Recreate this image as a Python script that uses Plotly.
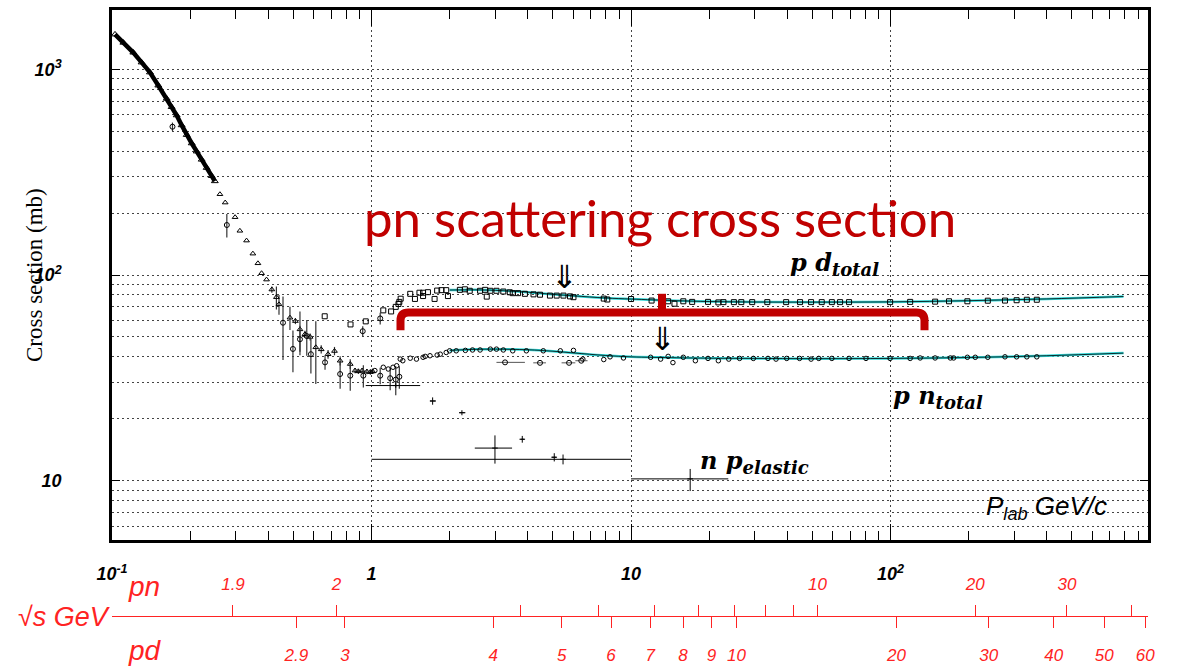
import math
import plotly.graph_objects as go

# ---------------- data (P_lab in GeV/c, cross sections in mb) ----------------
# np total, low-energy dense band
band_x = [0.1027, 0.1106, 0.1208, 0.130, 0.140, 0.1508, 0.1625, 0.1697, 0.1775,
          0.1855, 0.194, 0.2028, 0.212, 0.2216, 0.2316, 0.2422, 0.249]
band_y = [1479, 1348, 1207, 1081, 967, 835, 720, 656, 598,
          535, 480, 437, 399, 364, 332, 303, 286]

# np total, triangles below 1 GeV/c
tri_x = [0.2606, 0.273, 0.298, 0.311, 0.33, 0.349, 0.365, 0.377, 0.394, 0.413, 0.43,
         0.44, 0.485, 0.509, 0.53, 0.554, 0.58, 0.61, 0.64, 0.68, 0.72, 0.757, 0.828,
         0.864, 0.89, 0.92, 0.96, 0.99, 1.01]
tri_y = [247, 225, 191, 164, 147, 127, 114, 102, 95, 85, 78,
         72, 62, 59.7, 54.4, 51.5, 50, 44.5, 43.5, 41.2, 42.7, 38.3, 36.9,
         34.3, 34.0, 34.3, 33.9, 33.7, 34.0]
tri_err = [0, 0, 0, 0, 0, 0, 0, 0, 0, 3, 10,
           8, 8, 2, 12, 2, 2, 15, 2, 2, 2, 2, 2,
           1, 1, 1, 1, 1, 1]

# np total, circles with error bars
circ_x = [0.171, 0.277, 0.456, 0.498, 0.53, 0.563, 0.584, 0.662, 0.757, 0.828,
          0.925, 0.93, 1.08, 1.08, 1.18, 1.24, 1.28]
circ_y = [526, 175, 58.6, 43.7, 48.7, 50.5, 41.2, 37.6, 33.0, 32.4,
          53.3, 32.4, 32.4, 61.5, 31.5, 31.0, 32.0]
circ_err = [25, 23, 20, 10, 8, 10, 8, 3, 5, 5,
            3, 4, 3, 4, 4, 5, 4]

# pd total
pd_x = [0.66, 0.83, 0.95, 1.11, 1.19, 1.24, 1.27, 1.28, 1.295, 1.41, 1.47, 1.53, 1.58,
        1.58, 1.65, 1.75, 1.79, 1.86, 1.94, 1.97, 2.19, 2.29, 2.39, 2.62, 2.74, 2.78,
        2.87, 3.03, 3.22, 3.41, 3.5, 3.67, 3.9, 4.21, 4.46, 4.87, 5.17, 5.49, 5.82,
        6.0, 7.85, 8.1, 10.0, 12.0, 13.9, 14.7, 15.9, 17.2, 19.8, 21.7, 22.7, 24.9,
        26.6, 29.3, 33.5, 39.6, 44.8, 49.4, 54.3, 59.4, 63.9, 69.2, 99.6, 119, 148.5,
        168, 197.7, 237, 276, 306, 335, 366]
pd_y = [63, 57.5, 59.5, 67.3, 66.5, 70, 72.3, 74, 76.7, 81, 76.5, 82, 82,
        79, 82.5, 76.5, 84, 84.4, 84.4, 79, 84.7, 85.2, 83.8, 83.8, 84.7, 78.5,
        83.8, 83.8, 83.1, 82.4, 81.6, 81.6, 81.0, 80.5, 80.2, 79.4, 79.4, 79.4, 78.7,
        78.0, 76.8, 76.0, 76.4, 75.1, 74.5, 72.5, 74.5, 74.0, 74.0, 73.6, 73.8, 73.8,
        73.8, 73.8, 73.8, 73.8, 73.8, 73.8, 73.8, 73.8, 73.8, 73.8, 73.8, 74.0, 74.2,
        74.5, 74.5, 75.0, 75.1, 75.4, 75.8, 75.8]

# pn total
pn_x = [1.03, 1.11, 1.16, 1.21, 1.25, 1.29, 1.32, 1.41, 1.49, 1.58, 1.61, 1.68, 1.79,
        1.84, 1.94, 2.0, 2.12, 2.3, 2.45, 2.62, 2.87, 3.03, 3.22, 3.5, 3.95, 4.59,
        5.34, 6.0, 6.52, 7.85, 8.3, 9.35, 11.9, 13.0, 13.9, 14.5, 15.9, 17.7, 19.8,
        21.7, 23.8, 26.2, 29.6, 33.7, 36.2, 39.8, 44.6, 49.4, 52.9, 59.4, 69.2, 80.4,
        99.6, 119, 130, 148.5, 170, 175, 197.7, 212, 237, 276, 306, 335, 366]
pn_y = [34.3, 35.6, 34.9, 35.6, 36.2, 39.0, 38.3, 39.4, 39.0, 39.8, 40.2, 40.5, 40.8,
        41.2, 42.0, 42.8, 42.8, 43.0, 43.2, 43.2, 43.6, 43.6, 43.2, 42.8, 42.8, 42.8,
        42.8, 43.0, 39.0, 38.8, 40.0, 39.5, 39.8, 39.0, 40.2, 37.5, 39.8, 38.3, 39.3,
        38.3, 39.0, 39.3, 39.3, 39.3, 39.0, 39.3, 39.3, 39.0, 39.3, 39.3, 39.3, 39.3,
        39.3, 39.3, 39.5, 39.5, 39.5, 39.5, 39.8, 39.8, 39.8, 40.0, 40.0, 40.0, 40.0]

# pn total, points with horizontal bins
pnbin_x = [3.27, 4.46, 5.77, 6.43]
pnbin_y = [37.6, 37.4, 37.4, 38.3]
pnbin_lo = [3.03, 4.2, 5.4, 6.1]
pnbin_hi = [3.9, 4.7, 6.1, 6.8]

# np elastic
el_x = [1.24, 1.72, 2.23, 2.99, 3.81, 5.06, 5.47, 16.9]
el_y = [29.0, 24.4, 21.4, 14.4, 15.9, 13.0, 12.7, 10.2]
el_xlo = [0.95, 1.68, 2.18, 2.5, 3.75, 4.95, 1.0, 10.0]
el_xhi = [1.54, 1.77, 2.3, 3.48, 3.88, 5.15, 10.0, 23.7]
el_ylo = [28.3, 23.4, 20.8, 12.1, 15.3, 12.4, 12.0, 8.9]
el_yhi = [29.8, 25.4, 22.0, 16.6, 16.5, 13.6, 13.4, 11.4]

# fitted curves
fit_x = [2.0, 2.5, 3.0, 4.0, 5.0, 6.0, 8.0, 10, 15, 20, 30, 50, 100, 200, 400, 790]
pd_fit_y = [84.5, 84.7, 84.2, 82.5, 80.5, 79.2, 77.3, 76.4, 75.0, 74.3, 73.9, 73.8,
            74.0, 75.0, 76.5, 78.6]
pn_fit_y = [43.0, 43.5, 43.6, 43.3, 42.6, 41.8, 40.6, 40.0, 39.6, 39.4, 39.3, 39.2,
            39.3, 39.7, 40.5, 41.7]

# sqrt(s) scale ticks (GeV)
pn_sqrt_s = [1.9, 2, 3, 4, 5, 6, 7, 8, 9, 10, 20, 30, 40]
pn_labelled = [1.9, 2, 10, 20, 30]
pd_sqrt_s = [2.9, 3, 4, 5, 6, 7, 8, 9, 10, 20, 30, 40, 50, 60]

# main axis ticks
x_major = [0.1, 1, 10, 100]
x_major_text = ["10<sup>-1</sup>", "1", "10", "10<sup>2</sup>"]
y_major = [10, 100, 1000]
y_major_text = ["10", "10<sup>2</sup>", "10<sup>3</sup>"]

# ---------------- kinematics: lab momentum for a given sqrt(s) ----------------
M_P, M_N, M_D = 0.93827, 0.93957, 1.87561


def plab(sqrt_s, m_beam, m_target):
    s = sqrt_s ** 2
    e = (s - m_beam ** 2 - m_target ** 2) / (2 * m_target)
    return math.sqrt(e * e - m_beam ** 2)


pn_tick_p = [plab(v, M_P, M_N) for v in pn_sqrt_s]
pn_tick_t = [(f"{v:g}" if v in pn_labelled else "") for v in pn_sqrt_s]
pd_tick_p = [plab(v, M_P, M_D) for v in pd_sqrt_s]
pd_tick_t = [f"{v:g}" for v in pd_sqrt_s]

# ---------------- page geometry ----------------
W, H = 1181, 672
ML, MR, MT, MB = 112, 33, 7, 40
PW, PH = W - ML - MR, H - MT - MB


def fx(px):
    return (px - ML) / PW


def fy(py):
    return (H - MB - py) / PH


X_RANGE = [-1, 2.992]
Y_RANGE = [0.7115, 3.2885]
DARK_RED = "#C00000"
RED = "rgb(255,35,35)"
GRID = "#444444"
GRID_DASH = "2px,3px"

fig = go.Figure()

# fitted curves: black line under a cyan line
for fy_vals in (pd_fit_y, pn_fit_y):
    fig.add_trace(go.Scatter(x=fit_x, y=fy_vals, mode="lines",
                             line=dict(color="#2ED8D8", width=2.5, shape="spline")))
    fig.add_trace(go.Scatter(x=fit_x, y=fy_vals, mode="lines",
                             line=dict(color="black", width=0.8, shape="spline")))

fig.add_trace(go.Scatter(x=band_x, y=band_y, mode="lines+markers",
                         line=dict(color="black", width=4.5),
                         marker=dict(symbol="triangle-up-open", size=6, color="black")))
fig.add_trace(go.Scatter(x=tri_x, y=tri_y, mode="markers",
                         marker=dict(symbol="triangle-up-open", size=5, color="black"),
                         error_y=dict(type="data", array=tri_err, color="#333", thickness=1.2, width=0)))
fig.add_trace(go.Scatter(x=circ_x, y=circ_y, mode="markers",
                         marker=dict(symbol="circle-open", size=5, color="black"),
                         error_y=dict(type="data", array=circ_err, color="#333", thickness=1.2, width=0)))
fig.add_trace(go.Scatter(x=pd_x, y=pd_y, mode="markers",
                         marker=dict(symbol="square-open", size=5, color="black")))
fig.add_trace(go.Scatter(x=pn_x, y=pn_y, mode="markers",
                         marker=dict(symbol="circle-open", size=4.5, color="black")))
fig.add_trace(go.Scatter(
    x=pnbin_x, y=pnbin_y, mode="markers",
    marker=dict(symbol="circle-open", size=5, color="black"),
    error_x=dict(type="data", symmetric=False,
                 array=[h - v for h, v in zip(pnbin_hi, pnbin_x)],
                 arrayminus=[v - l for l, v in zip(pnbin_lo, pnbin_x)],
                 color="#555", thickness=1, width=0)))
fig.add_trace(go.Scatter(
    x=el_x, y=el_y, mode="markers",
    marker=dict(symbol="line-ew", size=4, line=dict(color="black", width=1)),
    error_x=dict(type="data", symmetric=False,
                 array=[h - v for h, v in zip(el_xhi, el_x)],
                 arrayminus=[v - l for l, v in zip(el_xlo, el_x)],
                 color="black", thickness=1, width=0),
    error_y=dict(type="data", symmetric=False,
                 array=[h - v for h, v in zip(el_yhi, el_y)],
                 arrayminus=[v - l for l, v in zip(el_ylo, el_y)],
                 color="black", thickness=1, width=0)))

# empty traces so the sqrt(s) axes are drawn
fig.add_trace(go.Scatter(x=[], y=[], xaxis="x2", yaxis="y"))
fig.add_trace(go.Scatter(x=[], y=[], xaxis="x3", yaxis="y"))

tick_font = dict(family="Liberation Sans", size=18, color="black",
                 weight="bold", style="italic")
red_font = dict(family="Liberation Sans", size=17, color=RED, style="italic")

fig.update_layout(
    width=W, height=H,
    margin=dict(l=ML, r=MR, t=MT, b=MB),
    paper_bgcolor="white", plot_bgcolor="white",
    showlegend=False,
    xaxis=dict(type="log", range=X_RANGE, domain=[0, 1], anchor="y",
               showline=True, linecolor="black", linewidth=2.5, mirror="ticks",
               ticks="inside", ticklen=16, tickwidth=1, tickcolor="black",
               tickvals=x_major, ticktext=x_major_text, tickfont=tick_font,
               ticklabelstandoff=16,
               showgrid=True, gridcolor=GRID, griddash=GRID_DASH, gridwidth=1,
               minor=dict(ticks="inside", ticklen=9, tickcolor="black",
                          dtick="D1", showgrid=False),
               zeroline=False),
    yaxis=dict(type="log", range=Y_RANGE, domain=[fy(543), 1],
               showline=True, linecolor="black", linewidth=2.5, mirror="ticks",
               ticks="inside", ticklen=8, tickwidth=1, tickcolor="black",
               tickvals=y_major, ticktext=y_major_text, tickfont=tick_font,
               ticklabelstandoff=44,
               showgrid=True, gridcolor=GRID, griddash=GRID_DASH, gridwidth=1,
               minor=dict(dtick="D1", showgrid=True, gridcolor=GRID,
                          griddash=GRID_DASH, gridwidth=1, ticks=""),
               zeroline=False),
    xaxis2=dict(type="log", range=X_RANGE, overlaying="x", anchor="free",
                position=fy(620), side="top",
                showline=True, linecolor=RED, linewidth=1,
                ticks="outside", ticklen=11, tickwidth=1, tickcolor=RED,
                tickvals=pn_tick_p, ticktext=pn_tick_t, tickfont=red_font,
                ticklabelstandoff=8, showgrid=False, zeroline=False),
    xaxis3=dict(type="log", range=X_RANGE, overlaying="x", anchor="free",
                position=fy(620), side="bottom",
                showline=True, linecolor=RED, linewidth=1,
                ticks="outside", ticklen=11, tickwidth=1, tickcolor=RED,
                tickvals=pd_tick_p, ticktext=pd_tick_t, tickfont=red_font,
                ticklabelstandoff=12, showgrid=False, zeroline=False),
)

# bracket grouping the pd and pn total curves
bx0, bx1, bxc, by, byend, bytop, rad = 400.5, 924.5, 662, 313, 331, 294, 8
bracket = (f"M {fx(bx0)},{fy(byend)} L {fx(bx0)},{fy(by + rad)} "
           f"Q {fx(bx0)},{fy(by)} {fx(bx0 + rad)},{fy(by)} "
           f"L {fx(bx1 - rad)},{fy(by)} "
           f"Q {fx(bx1)},{fy(by)} {fx(bx1)},{fy(by + rad)} "
           f"L {fx(bx1)},{fy(byend)}")
spike = f"M {fx(bxc)},{fy(by)} L {fx(bxc)},{fy(bytop)}"
for p in (bracket, spike):
    fig.add_shape(type="path", path=p, xref="paper", yref="paper",
                  line=dict(color=DARK_RED, width=8), layer="above")


def note(text, px, py, size, color="black", family="Liberation Sans",
         xanchor="left", angle=0, **font_extra):
    fig.add_annotation(text=text, x=fx(px), y=fy(py), xref="paper", yref="paper",
                       xanchor=xanchor, yanchor="middle", showarrow=False,
                       textangle=angle,
                       font=dict(family=family, size=size, color=color, **font_extra))


note("pn scattering cross section", 660, 217, 51, DARK_RED, "Lato", "center")
note("⇓", 564, 277, 32, "black", "DejaVu Sans", "center")
note("⇓", 662, 340, 32, "black", "DejaVu Sans", "center")
sub_style = "<span style='font-size:18px'>{}</span>"
note("p d<sub>" + sub_style.format("total") + "</sub>", 788, 264, 24, "black",
     "DejaVu Serif", weight="bold", style="italic")
note("p n<sub>" + sub_style.format("total") + "</sub>", 891, 398, 24, "black",
     "DejaVu Serif", weight="bold", style="italic")
note("n p<sub>" + sub_style.format("elastic") + "</sub>", 698, 464, 24, "black",
     "DejaVu Serif", weight="bold", style="italic")
note("<i>P<sub>lab</sub> GeV/c</i>", 984, 510, 26)
note("Cross section (mb)", 35, 275, 23, "black", "Liberation Serif", "center", -90)
note("pn", 126, 590, 28, RED, style="italic")
note("√s GeV", 16, 621, 27, RED, style="italic")
note("pd", 126, 655, 28, RED, style="italic")

fig.write_html("out.html")
